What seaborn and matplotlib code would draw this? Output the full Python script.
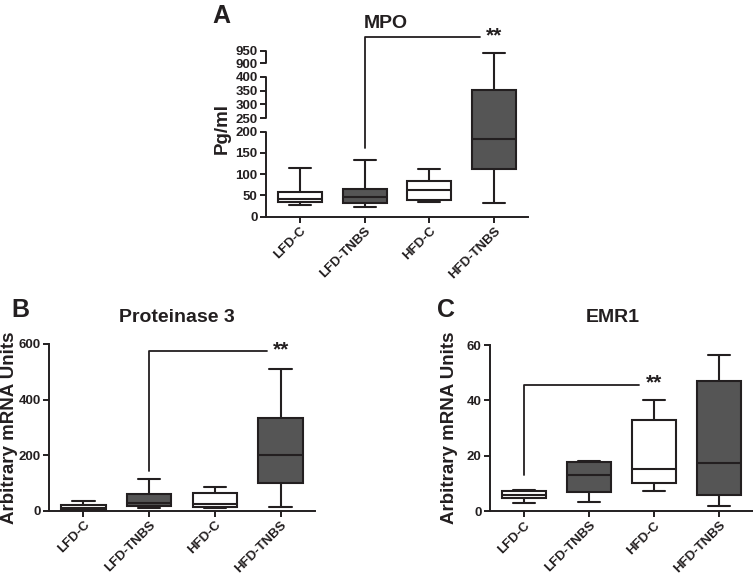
import numpy as np
import pandas as pd
import seaborn as sns
import matplotlib.pyplot as plt


groups = ["LFD-C", "LFD-TNBS", "HFD-C", "HFD-TNBS"]

# five-number summaries: whisker low, q1, median, q3, whisker high
mpo = {
    "LFD-C": [27, 34, 42, 57, 115],
    "LFD-TNBS": [23, 33, 47, 64, 133],
    "HFD-C": [35, 40, 63, 84, 112],
    "HFD-TNBS": [33, 113, 183, 352, 942],
}
prot3 = {
    "LFD-C": [1, 3, 9, 22, 35],
    "LFD-TNBS": [8, 18, 28, 59, 115],
    "HFD-C": [8, 14, 23, 63, 84],
    "HFD-TNBS": [13, 98, 199, 332, 509],
}
emr1 = {
    "LFD-C": [2.8, 4.6, 5.8, 7.3, 7.6],
    "LFD-TNBS": [3.1, 6.8, 13.1, 17.7, 18.2],
    "HFD-C": [7.3, 10.1, 15.3, 32.8, 40],
    "HFD-TNBS": [1.8, 5.7, 17.5, 46.9, 56.3],
}

mpo_ticks = [0, 50, 100, 150, 200, 250, 300, 350, 400, 900, 950]
mpo_segments = [(0, 200), (250, 400), (900, 950)]

DARK = "#231f20"
GREY = "#555555"
colors = {"LFD-C": "white", "LFD-TNBS": GREY, "HFD-C": "white", "HFD-TNBS": GREY}


def to_long(summ):
    rows = []
    for g in groups:
        for v in summ[g]:
            rows.append({"group": g, "value": v})
    return pd.DataFrame(rows)


sns.set_theme(style="ticks")
plt.rcParams["font.family"] = ["Liberation Sans", "DejaVu Sans"]
plt.rcParams["font.weight"] = "bold"
plt.rcParams["axes.labelweight"] = "bold"
plt.rcParams["text.color"] = DARK
plt.rcParams["axes.labelcolor"] = DARK
plt.rcParams["xtick.color"] = DARK
plt.rcParams["ytick.color"] = DARK
plt.rcParams["axes.edgecolor"] = DARK

W, H = 753, 579
fig = plt.figure(figsize=(W / 100, H / 100), dpi=100)


def px_axes(left, right, top, bottom):
    return fig.add_axes([left / W, 1 - bottom / H, (right - left) / W, (bottom - top) / H])


def draw_box(ax, summ):
    sns.boxplot(data=to_long(summ), x="group", y="value", hue="group",
                order=groups, hue_order=groups, palette=colors, dodge=False,
                width=0.68, whis=(0, 100), linecolor=DARK, linewidth=1.5,
                legend=False, ax=ax)
    ax.set_xlabel("")
    sns.despine(ax=ax)
    for s in ["left", "bottom"]:
        ax.spines[s].set_linewidth(1.4)
    ax.tick_params(axis="both", direction="out", length=4, width=1.4, labelsize=9.5, pad=2)
    for lab in ax.get_xticklabels():
        lab.set_rotation(45)
        lab.set_ha("right")
        lab.set_rotation_mode("anchor")


def bracket(ax, x0, x1, y0, y1, star_x, star_y):
    ax.plot([x0, x0, x1], [y0, y1, y1], color=DARK, lw=1.3, clip_on=False)
    ax.text(star_x, star_y, "**", ha="center", va="center", fontsize=15,
            fontweight="bold", color=DARK, clip_on=False)


# ---- A: MPO with broken axis ----
axA = px_axes(266, 528, 50.7, 216.7)
draw_box(axA, mpo)

brk_in = [-1000, 0, 200, 250, 400, 900, 950, 5000]
brk_out = [-425, 0, 85, 98.4, 140, 153.4, 166, 1178.5]


def fwd(y):
    return np.interp(y, brk_in, brk_out)


def inv(y):
    return np.interp(y, brk_out, brk_in)


axA.set_yscale("function", functions=(fwd, inv))
axA.set_ylim(0, 950)
axA.set_yticks(mpo_ticks)
axA.set_yticklabels([str(t) for t in mpo_ticks])
axA.spines["left"].set_visible(False)
for lo, hi in mpo_segments:
    axA.plot([0, 0], [lo, hi], color=DARK, lw=1.4, clip_on=False,
             transform=axA.get_yaxis_transform())
axA.set_ylabel("Pg/ml", fontsize=13.5)
axA.yaxis.set_label_coords(-0.135, 0.53)
bracket(axA, 1, 2.78, 161, 1003, 3, 1010)
fig.text(386 / W, 1 - 23 / H, "MPO", ha="center", va="center", fontsize=14, fontweight="bold")
fig.text(221 / W, 1 - 16 / H, "A", ha="center", va="center", fontsize=18, fontweight="bold")

# ---- B: Proteinase 3 ----
axB = px_axes(49, 315, 344, 510.7)
draw_box(axB, prot3)
axB.set_ylim(0, 600)
axB.set_yticks([0, 200, 400, 600])
axB.set_ylabel("Arbitrary mRNA Units", fontsize=13.5)
axB.yaxis.set_label_coords(-0.118, 0.5)
bracket(axB, 1, 2.8, 144, 576, 3, 578)
fig.text(177 / W, 1 - 318 / H, "Proteinase 3", ha="center", va="center", fontsize=14, fontweight="bold")
fig.text(20 / W, 1 - 310 / H, "B", ha="center", va="center", fontsize=18, fontweight="bold")

# ---- C: EMR1 ----
axC = px_axes(490, 753, 345, 511)
draw_box(axC, emr1)
axC.set_ylim(0, 60)
axC.set_yticks([0, 20, 40, 60])
axC.set_ylabel("Arbitrary mRNA Units", fontsize=13.5)
axC.yaxis.set_label_coords(-0.122, 0.5)
bracket(axC, 0, 1.77, 13, 45.5, 2, 46.2)
fig.text(613 / W, 1 - 318 / H, "EMR1", ha="center", va="center", fontsize=14, fontweight="bold")
fig.text(446 / W, 1 - 310 / H, "C", ha="center", va="center", fontsize=18, fontweight="bold")

fig.savefig("out.png", dpi=100)
